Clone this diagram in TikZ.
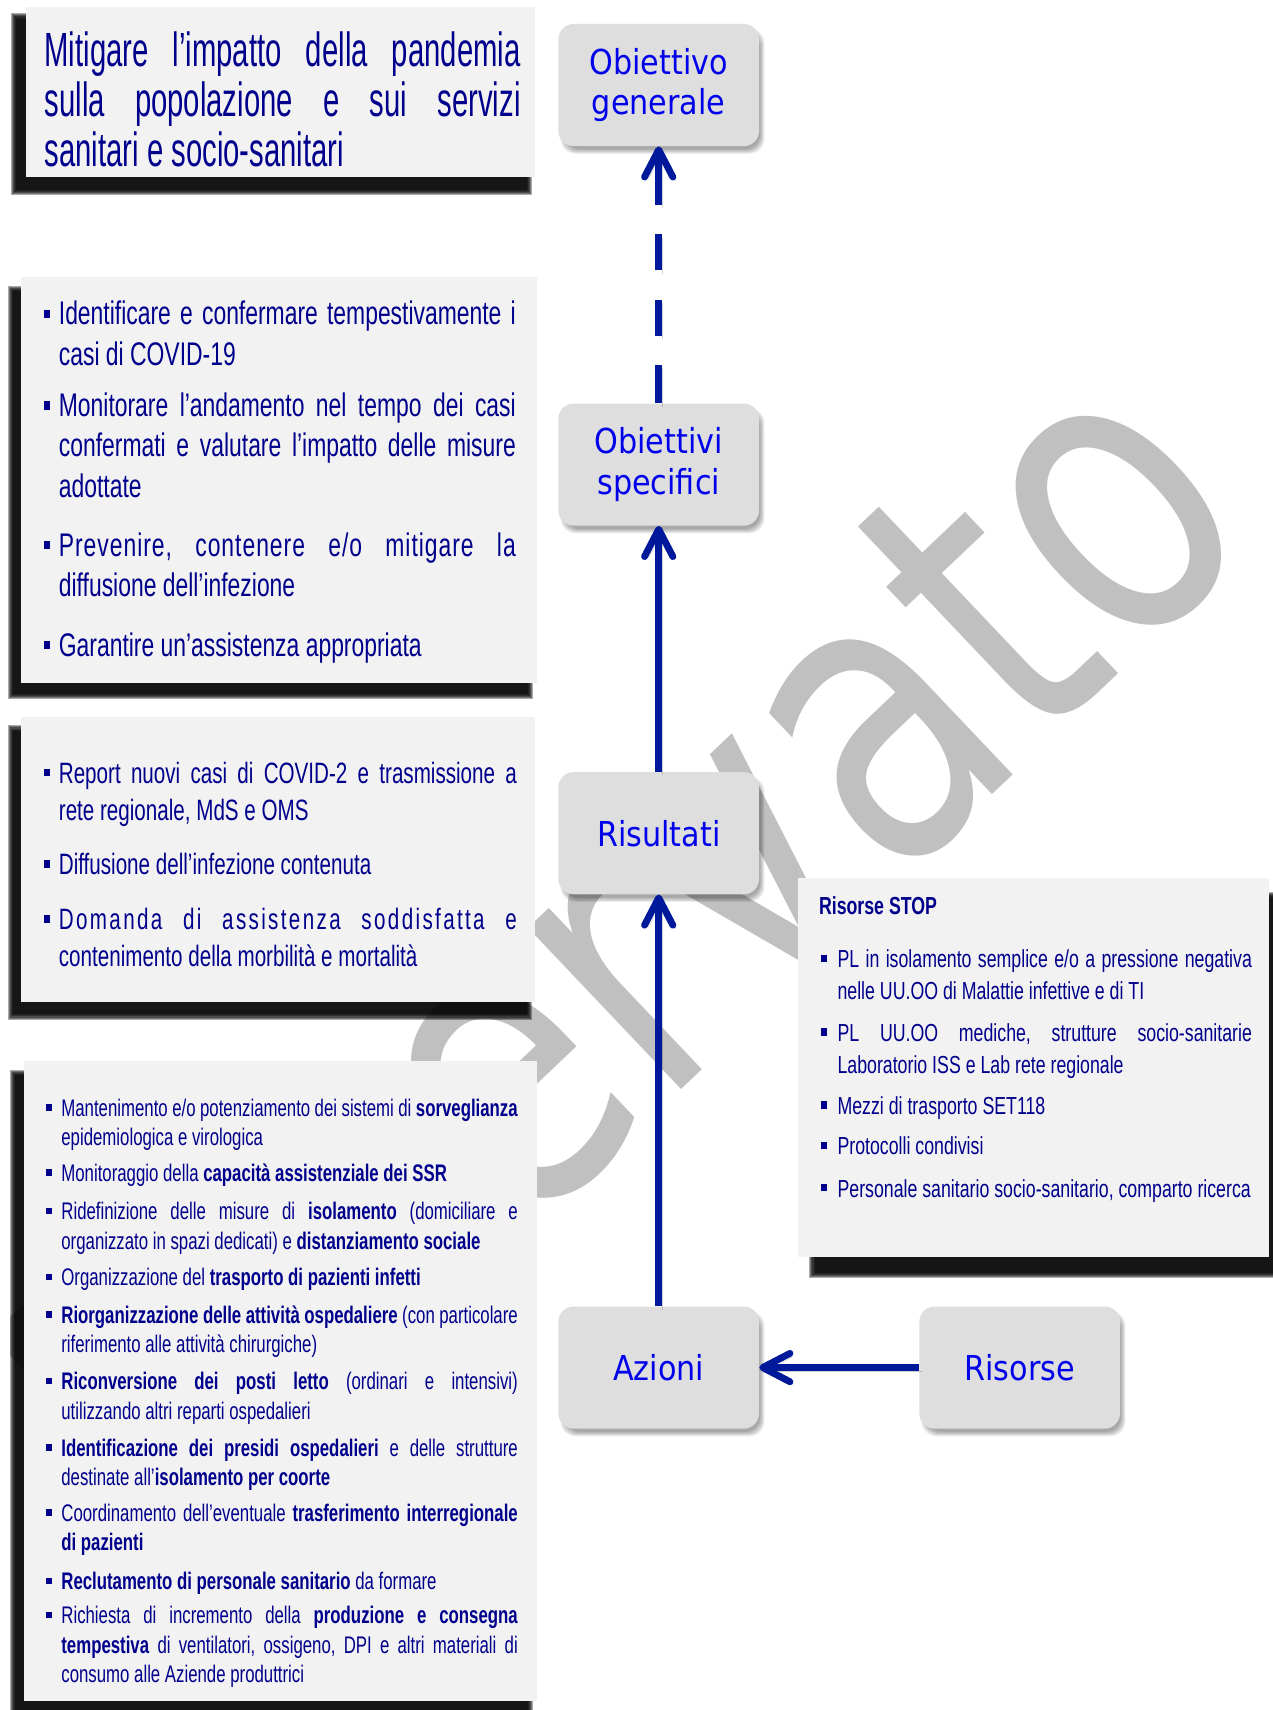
\documentclass[tikz,border=0pt]{standalone}
\usepackage{fontspec}
\setmainfont{Liberation Sans}
\newfontfamily\fA[FakeStretch=0.61]{Liberation Sans}
\newfontfamily\fB[FakeStretch=0.70]{Liberation Sans}
\newfontfamily\fD[FakeStretch=0.72]{Liberation Sans}
\newfontfamily\fL[FakeStretch=0.88]{DejaVu Sans}
\newfontfamily\fW[FakeStretch=0.784]{DejaVu Sans}
\usetikzlibrary{arrows.meta}
\frenchspacing
\definecolor{navy}{RGB}{0,0,140}
\definecolor{lblue}{RGB}{0,0,235}
\definecolor{arr}{RGB}{0,25,155}
\definecolor{boxg}{RGB}{242,242,242}
\definecolor{nodeg}{RGB}{222,222,222}
\definecolor{wm}{RGB}{192,192,192}
\newdimen\linwd
\newcommand\JL[1]{\hbox to\linwd{#1}}
\newcommand\NL[1]{\hbox{#1}}
\newcommand\Para[1]{\vtop{\lineskiplimit=-1000pt\relax #1}}
\newcommand\setbul[4]{\def\bul{\llap{\raisebox{#3pt}{\rule{#1pt}{#2pt}}\hspace{#4pt}}}}
\newcommand\bshadow[4]{\foreach \k in {0,...,5}{\fill[black,opacity=0.33] (#1+\k,#2+\k) rectangle (#3-\k,#4-\k);}}
\newcommand\nshadow[2]{\foreach \k in {0,...,4}{\fill[black,opacity=0.08,rounded corners=14pt] (#1-90+\k,#2-52+\k) rectangle (#1+97-\k,#2+63-\k);}}
\tikzset{
 txt/.style={anchor=base west, inner sep=0pt, outer sep=0pt, text=navy},
 tA/.style={txt, font={\fontsize{44}{46}\fA\linwd=436.5pt\relax}},
 tB/.style={txt, font={\fontsize{30}{37}\fB\linwd=419pt\relax\setbul{6}{7.5}{6.5}{8}}},
 tC/.style={txt, font={\fontsize{27}{34.4}\fB\linwd=420pt\relax\setbul{6}{7}{6}{8}}},
 tD/.style={txt, font={\fontsize{22.6}{29}\fD\linwd=380pt\relax\setbul{5}{6.5}{5.5}{10}}},
 tE/.style={txt, font={\fontsize{22}{27}\fB\linwd=418.5pt\relax\setbul{5}{6}{5}{8.8}}},
 lbl/.style={fill=nodeg, rounded corners=14pt, minimum width=184pt, minimum height=112pt, inner sep=0pt, text=lblue, align=center, font={\fontsize{31.5}{37}\fL}},
 connbase/.style={draw=arr, line width=6.3pt, -{Straight Barb[length=25pt,width=26pt,round]}},
 conn/.style={connbase,
   preaction={draw=black, opacity=0.18, transform canvas={shift={(3pt,-3pt)}}}},
 dashpat/.style={dash pattern=on 35pt off 27pt on 33pt off 27pt on 33pt off 27pt on 300pt},
 dconn/.style={connbase, dashpat,
   preaction={draw=black, opacity=0.18, dashpat, transform canvas={shift={(3pt,-3pt)}}}},
}
\begin{document}
\begin{tikzpicture}[x=1pt,y=-1pt]
\fill[white] (0,0) rectangle (1167,1568);
\useasboundingbox (0,0) rectangle (1167,1568);
% watermark
\begin{scope}
\clip (10,0) rectangle (1167,1568);
\node[text=wm, rotate=43.5, anchor=base, inner sep=0pt, font={\fontsize{373}{373}\fW}] (wmk) at (659.4,965.7) {Riservato};
\end{scope}
% left boxes
\bshadow{10}{12}{488}{179}
\fill[boxg] (23.6,6.7) rectangle (491,162);
\bshadow{7}{262}{489}{641}
\fill[boxg] (19,254) rectangle (492.5,626.4);
\bshadow{7}{665}{488}{935}
\fill[boxg] (19,657) rectangle (491,919);
\bshadow{9}{981}{489}{1575}
\fill[boxg] (22,973) rectangle (492.7,1560);
\bshadow{742}{818}{1172}{1172}
\fill[boxg] (731.7,805) rectangle (1164,1153);
% box A text
\node[tA] (a1) at (40.9,61) {\Para{\JL{Mitigare l’impatto della pandemia}\JL{sulla popolazione e sui servizi}\NL{sanitari e socio-sanitari}}};
% box B
\node[tB] (b1) at (54,298) {\Para{\JL{\bul Identificare e confermare tempestivamente i}\NL{casi di COVID-19}}};
\node[tB] (b2) at (54,382) {\Para{\JL{\bul Monitorare l’andamento nel tempo dei casi}\JL{confermati e valutare l’impatto delle misure}\NL{adottate}}};
\node[tB] (b3) at (54,510.3) {\Para{\JL{\bul\addfontfeature{LetterSpace=3}Prevenire, contenere e/o mitigare la}\NL{diffusione dell’infezione}}};
\node[tB] (b4) at (54,602) {\Para{\NL{\bul Garantire un’assistenza appropriata}}};
% box C
\node[tC] (c1) at (54,718) {\Para{\JL{\bul Report nuovi casi di COVID-2 e trasmissione a}\NL{rete regionale, MdS e OMS}}};
\node[tC] (c2) at (54,802) {\Para{\NL{\bul Diffusione dell’infezione contenuta}}};
\node[tC] (c3) at (54,852) {\Para{\JL{\bul\addfontfeature{LetterSpace=8}Domanda di assistenza soddisfatta e}\NL{contenimento della morbilità e mortalità}}};
% box D
\node[tD] (dt) at (751,839) {\bfseries Risorse STOP};
\node[tD] (d1) at (768,887.6) {\Para{\JL{\bul PL in isolamento semplice e/o a pressione negativa}\NL{nelle UU.OO di Malattie infettive e di TI}}};
\node[tD] (d2) at (768,955) {\Para{\JL{\bul PL UU.OO mediche, strutture socio-sanitarie}\NL{Laboratorio ISS e Lab rete regionale}}};
\node[tD] (d3) at (768,1022) {\Para{\NL{\bul Mezzi di trasporto SET118}}};
\node[tD] (d4) at (768,1059) {\Para{\NL{\bul Protocolli condivisi}}};
\node[tD] (d5) at (768,1098) {\Para{\NL{\bul Personale sanitario socio-sanitario, comparto ricerca}}};
% box E
\node[tE] (e1) at (56.3,1023.7) {\Para{\JL{\bul Mantenimento e/o potenziamento dei sistemi di \textbf{sorveglianza}}\NL{epidemiologica e virologica}}};
\node[tE] (e2) at (56.3,1083.3) {\Para{\NL{\bul Monitoraggio della \textbf{capacità assistenziale dei SSR}}}};
\node[tE] (e3) at (56.3,1118.4) {\Para{\JL{\bul Ridefinizione delle misure di \textbf{isolamento} (domiciliare e}\NL{organizzato in spazi dedicati) e \textbf{distanziamento sociale}}}};
\node[tE] (e4) at (56.3,1179) {\Para{\NL{\bul Organizzazione del \textbf{trasporto di pazienti infetti}}}};
\node[tE] (e5) at (56.3,1213.2) {\Para{\JL{\bul\textbf{Riorganizzazione delle attività ospedaliere} (con particolare}\NL{riferimento alle attività chirurgiche)}}};
\node[tE] (e6) at (56.3,1274.3) {\Para{\JL{\bul\textbf{Riconversione dei posti letto} (ordinari e intensivi)}\NL{utilizzando altri reparti ospedalieri}}};
\node[tE] (e7) at (56.3,1335.4) {\Para{\JL{\bul\textbf{Identificazione dei presidi ospedalieri} e delle strutture}\NL{destinate all’\textbf{isolamento per coorte}}}};
\node[tE] (e8) at (56.3,1395) {\Para{\JL{\bul Coordinamento dell’eventuale \textbf{trasferimento interregionale}}\NL{\textbf{di pazienti}}}};
\node[tE] (e9) at (56.3,1457.7) {\Para{\NL{\bul\textbf{Reclutamento di personale sanitario} da formare}}};
\node[tE] (e10) at (56.3,1488.8) {\Para{\JL{\bul Richiesta di incremento della \textbf{produzione e consegna}}\JL{\textbf{tempestiva} di ventilatori, ossigeno, DPI e altri materiali di}\NL{consumo alle Aziende produttrici}}};
% right-hand nodes
\nshadow{604}{78}
\nshadow{604}{426}
\nshadow{604}{764}
\nshadow{604}{1254}
\nshadow{935}{1254}
\node[lbl] (og) at (604,78) {Obiettivo\\generale};
\node[lbl] (os) at (604,426) {Obiettivi\\specifici};
\node[lbl] (ris) at (604,764) {Risultati};
\node[lbl] (az) at (604,1254) {Azioni};
\node[lbl] (rs) at (935,1254) {Risorse};
% connectors
\draw[conn] (az.north) -- (ris.south);
\draw[conn] (ris.north) -- (os.south);
\draw[dconn] (os.north) -- (og.south);
\draw[conn] (rs.west) -- (az.east);
\end{tikzpicture}
\end{document}
